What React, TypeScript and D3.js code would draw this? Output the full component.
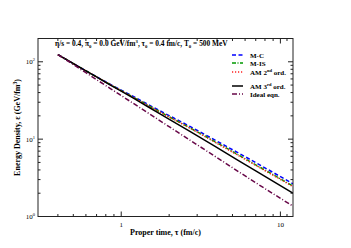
import React from "react";
import * as d3 from "d3";

const tau = [0.4, 0.6, 0.85, 1.2, 1.7, 2.7, 4.3, 7, 12];
const mc = [124, 76.5, 51.4, 35.3, 24.0, 14.6, 8.66, 4.97, 2.64];
const mis = [124, 76.5, 50.9, 34.6, 23.3, 14.0, 8.24, 4.66, 2.47];
const am2 = [124, 76.5, 50.9, 34.3, 23.1, 13.9, 8.09, 4.58, 2.43];
const am3 = [124, 76.5, 50.4, 33.6, 22.0, 12.6, 7.1, 3.88, 2.0];
const ideal = [124, 72.2, 45.4, 28.7, 18.0, 9.72, 5.23, 2.73, 1.36];

const xMajor = [1, 10];
const xMinor = [0.4, 0.5, 0.6, 0.7, 0.8, 0.9, 2, 3, 4, 5, 6, 7, 8, 9, 11];
const yMajor = [1, 10, 100];
const yMinor = [2, 3, 4, 5, 6, 7, 8, 9, 20, 30, 40, 50, 60, 70, 80, 90, 200];

const series = [
  { name: "M-C", sup: "", tail: "", values: mc, color: "#0000ff", dash: "4,2.5", ly: 55 },
  { name: "M-IS", sup: "", tail: "", values: mis, color: "#009900", dash: "4,1.5,1,1.5", ly: 63 },
  { name: "AM 2", sup: "nd", tail: " ord.", values: am2, color: "#ff2020", dash: "1.2,1.8", ly: 72 },
  { name: "AM 3", sup: "rd", tail: " ord.", values: am3, color: "#000000", dash: "", ly: 86 },
  { name: "Ideal eqn.", sup: "", tail: "", values: ideal, color: "#670748", dash: "5,2,1,2", ly: 94 },
];

export default function App() {
  const L = 38, R = 293, T = 38.5, B = 216.5;
  const x = d3.scaleLog().domain([0.3, 12]).range([L, R]);
  const y = d3.scaleLog().domain([1, 200]).range([B, T]);
  const font = "'Liberation Serif', 'Times New Roman', serif";
  const axisColor = "#222";

  return (
    <svg width={351} height={248} style={{ position: "absolute", left: 0, top: 0, background: "#fff" }} fontFamily={font}>
      <defs>
        <clipPath id="pc">
          <rect x={L} y={T} width={R - L} height={B - T} />
        </clipPath>
      </defs>
      <g clipPath="url(#pc)">
        {series.map((s) => {
          const line = d3
            .line<number>()
            .x((_, i) => x(tau[i]))
            .y((v) => y(v))
            .curve(d3.curveMonotoneX);
          return (
            <path
              key={s.name}
              d={line(s.values) || ""}
              fill="none"
              stroke={s.color}
              strokeWidth={1.5}
              strokeDasharray={s.dash || undefined}
            />
          );
        })}
      </g>
      <rect x={L} y={T} width={R - L} height={B - T} fill="none" stroke={axisColor} strokeWidth={1} />
      {xMajor.map((v) => (
        <g key={"xM" + v}>
          <line x1={x(v)} x2={x(v)} y1={B} y2={B - 5} stroke={axisColor} />
          <line x1={x(v)} x2={x(v)} y1={T} y2={T + 5} stroke={axisColor} />
        </g>
      ))}
      {xMinor.map((v) => (
        <g key={"xm" + v}>
          <line x1={x(v)} x2={x(v)} y1={B} y2={B - 2.5} stroke={axisColor} />
          <line x1={x(v)} x2={x(v)} y1={T} y2={T + 2.5} stroke={axisColor} />
        </g>
      ))}
      {yMajor.map((v) => (
        <g key={"yM" + v}>
          <line x1={L} x2={L + 5} y1={y(v)} y2={y(v)} stroke={axisColor} />
          <line x1={R} x2={R - 5} y1={y(v)} y2={y(v)} stroke={axisColor} />
        </g>
      ))}
      {yMinor.map((v) => (
        <g key={"ym" + v}>
          <line x1={L} x2={L + 2.5} y1={y(v)} y2={y(v)} stroke={axisColor} />
          <line x1={R} x2={R - 2.5} y1={y(v)} y2={y(v)} stroke={axisColor} />
        </g>
      ))}
      {xMajor.map((v) => (
        <text key={"xl" + v} x={x(v)} y={B + 10} fontSize={7} textAnchor="middle" fill="#000">
          {String(v)}
        </text>
      ))}
      {yMajor.map((v) => (
        <text key={"yl" + v} x={L - 3} y={y(v) + 2.5} fontSize={7} textAnchor="end" fill="#000">
          10
          <tspan fontSize={4.5} dy={-3}>
            {String(Math.round(Math.log10(v)))}
          </tspan>
        </text>
      ))}
      <text x={55} y={46} fontSize={7.4} fontWeight="bold" fill="#000">
        η/s = 0.4, π<tspan fontSize={4.8} dy={1.5}>0</tspan>
        <tspan dy={-1.5}> = 0.0 GeV/fm</tspan>
        <tspan fontSize={4.8} dy={-3}>3</tspan>
        <tspan dy={3}>, τ</tspan>
        <tspan fontSize={4.8} dy={1.5}>0</tspan>
        <tspan dy={-1.5}> = 0.4 fm/c, T</tspan>
        <tspan fontSize={4.8} dy={1.5}>0</tspan>
        <tspan dy={-1.5}> = 500 MeV</tspan>
      </text>
      {series.map((s) => (
        <g key={"lg" + s.name}>
          <line x1={232} x2={243} y1={s.ly} y2={s.ly} stroke={s.color} strokeWidth={1.5} strokeDasharray={s.dash || undefined} />
          <text x={250} y={s.ly + 2.5} fontSize={7} fontWeight="bold" fill="#000">
            {s.name}
            {s.sup ? (
              <>
                <tspan fontSize={4.5} dy={-3}>{s.sup}</tspan>
                <tspan dy={3}>{s.tail}</tspan>
              </>
            ) : null}
          </text>
        </g>
      ))}
      <text x={(L + R) / 2} y={235} fontSize={8} fontWeight="bold" textAnchor="middle" fill="#000">
        Proper time, τ (fm/c)
      </text>
      <text
        transform={`translate(20, ${(T + B) / 2}) rotate(-90)`}
        fontSize={8}
        fontWeight="bold"
        textAnchor="middle"
        fill="#000"
      >
        Energy Density, ε (GeV/fm<tspan fontSize={5.5} dy={-3}>3</tspan>
        <tspan dy={3}>)</tspan>
      </text>
    </svg>
  );
}
